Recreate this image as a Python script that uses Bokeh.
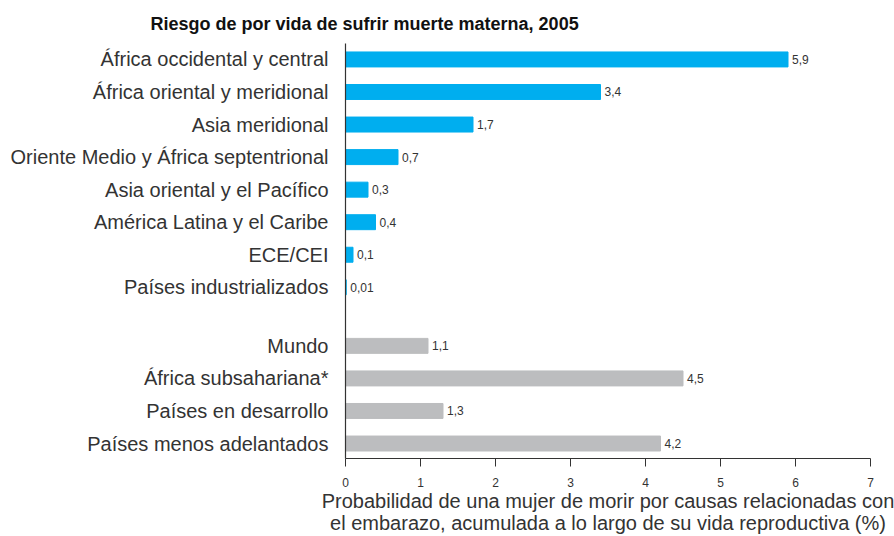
from bokeh.plotting import figure
from bokeh.models import ColumnDataSource, Range1d, FixedTicker, LabelSet
from bokeh.core.properties import value
from bokeh.embed import file_html
from bokeh.resources import INLINE

# Data
regions = ["África occidental y central", "África oriental y meridional", "Asia meridional",
           "Oriente Medio y África septentrional", "Asia oriental y el Pacífico",
           "América Latina y el Caribe", "ECE/CEI", "Países industrializados"]
region_values = [5.9, 3.4, 1.7, 0.7, 0.3, 0.4, 0.1, 0.01]
aggregates = ["Mundo", "África subsahariana*", "Países en desarrollo", "Países menos adelantados"]
aggregate_values = [1.1, 4.5, 1.3, 4.2]
x_ticks = [0, 1, 2, 3, 4, 5, 6, 7]

title = "Riesgo de por vida de sufrir muerte materna, 2005"
x_label = ("Probabilidad de una mujer de morir por causas relacionadas con\n"
           "el embarazo, acumulada a lo largo de su vida reproductiva (%)")

BLUE = "#00AEEF"
GRAY = "#BCBDBF"
TXT = "#333333"
FONT = "Liberation Sans"

gap = 1.8
reg_pos = [float(i) for i in range(len(regions))]
agg_pos = [len(regions) - 1 + gap + j for j in range(len(aggregates))]

def fmt(v):
    return str(v).replace(".", ",")

src_r = ColumnDataSource(dict(y=reg_pos, v=region_values, lab=[fmt(v) for v in region_values]))
src_a = ColumnDataSource(dict(y=agg_pos, v=aggregate_values, lab=[fmt(v) for v in aggregate_values]))

p = figure(width=894, height=536, output_backend="svg", toolbar_location=None,
           x_range=Range1d(0, 7), y_range=Range1d(agg_pos[-1] + 0.46, -0.49),
           min_border_left=345, min_border_right=24, min_border_top=43, min_border_bottom=75)
p.outline_line_color = None
p.xgrid.visible = False
p.ygrid.visible = False

p.hbar(y="y", right="v", left=0, height=0.46, color=BLUE, source=src_r)
p.hbar(y="y", right="v", left=0, height=0.46, color=GRAY, source=src_a)

for s in (src_r, src_a):
    p.add_layout(LabelSet(x="v", y="y", text="lab", source=s, x_offset=4, y_offset=0,
                          text_baseline="middle", text_font_size="12px", text_color=TXT,
                          text_font=value(FONT)))

p.title.text = title
p.title.align = "left"
p.title.offset = -195
p.title.text_font = FONT
p.title.text_font_size = "18px"
p.title.text_font_style = "bold"
p.title.text_color = "#111111"
p.title.standoff = 19

yax = p.yaxis[0]
yax.ticker = FixedTicker(ticks=reg_pos + agg_pos)
yax.major_label_overrides = {**{p_: n for p_, n in zip(reg_pos, regions)},
                             **{p_: n for p_, n in zip(agg_pos, aggregates)}}
yax.major_tick_line_color = None
yax.major_tick_out = 0
yax.major_tick_in = 0
yax.minor_tick_line_color = None
yax.major_label_text_font = FONT
yax.major_label_text_font_size = "20px"
yax.major_label_text_color = TXT
yax.major_label_standoff = 17
yax.axis_line_color = TXT
yax.axis_line_width = 1.2

xax = p.xaxis[0]
xax.ticker = FixedTicker(ticks=x_ticks)
xax.minor_tick_line_color = None
xax.major_tick_in = 0
xax.major_tick_out = 8
xax.major_tick_line_color = TXT
xax.axis_line_color = TXT
xax.axis_line_width = 1.2
xax.major_label_text_font = FONT
xax.major_label_text_font_size = "12px"
xax.major_label_text_color = TXT
xax.major_label_standoff = 11
xax.axis_label = x_label
xax.axis_label_text_font = FONT
xax.axis_label_text_font_size = "20px"
xax.axis_label_text_font_style = "normal"
xax.axis_label_text_color = TXT
xax.axis_label_text_line_height = 1.0
xax.axis_label_standoff = 0

open("out.html", "w").write(file_html(p, INLINE))
